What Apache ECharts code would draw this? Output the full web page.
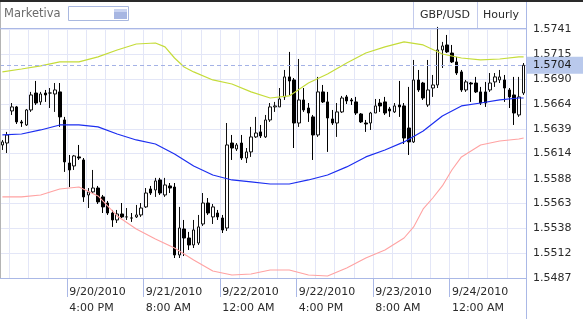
<!DOCTYPE html>
<html><head><meta charset="utf-8">
<script src="https://cdn.jsdelivr.net/npm/echarts@6/dist/echarts.min.js"></script>
<style>html,body{margin:0;padding:0;background:#fff}#c{width:583px;height:319px}</style>
</head><body><div id="c"></div>
<script>
// ---- data (GBP/USD hourly) ----
const startDay = 20, startHour = 2; // 9/20/2010 2:00 AM
const opens = [1.56227,1.56247,1.56574,1.56615,1.56462,1.56431,1.56584,1.56757,1.56666,1.56757,
1.56757,1.56747,1.56768,1.56482,1.56043,1.56013,1.56105,1.56074,1.55717,1.55748,
1.55788,1.55697,1.55635,1.55533,1.55462,1.55523,1.55493,1.55482,1.55493,1.55513,
1.55595,1.55778,1.55768,1.5587,1.55717,1.55809,1.55798,1.55105,1.5537,1.55278,
1.55207,1.55227,1.55421,1.55635,1.55493,1.55533,1.55482,1.5538,1.56247,1.56186,
1.56247,1.56094,1.56156,1.56309,1.5636,1.56309,1.56482,1.56615,1.56615,1.56717,
1.56921,1.5689,1.56451,1.56686,1.56604,1.56513,1.56329,1.56768,1.56666,1.56492,
1.56451,1.56564,1.56717,1.56686,1.56666,1.56543,1.56451,1.56451,1.56553,1.56655,
1.56666,1.56594,1.56564,1.56635,1.56625,1.564,1.56258,1.5689,1.56859,1.56635,
1.56808,1.56839,1.57196,1.57247,1.57165,1.57074,1.56972,1.56788,1.56859,1.56859,
1.56768,1.56768,1.56788,1.5687,1.5689,1.5689,1.56788,1.56737,1.56533,1.56757];
const closes = [1.56258,1.56329,1.56615,1.56462,1.56451,1.56584,1.56737,1.56655,1.56747,1.56737,
1.56757,1.56788,1.56513,1.56054,1.55972,1.56115,1.56094,1.55697,1.55748,1.55788,
1.55646,1.55595,1.55533,1.55462,1.55523,1.55493,1.55493,1.55482,1.55513,1.55584,
1.55737,1.55737,1.5586,1.55737,1.55819,1.55788,1.55105,1.5538,1.55278,1.55207,
1.5536,1.55391,1.55635,1.55533,1.55595,1.55493,1.5536,1.56227,1.56196,1.56227,
1.56094,1.56156,1.56309,1.56349,1.56319,1.56482,1.56615,1.56625,1.56696,1.56921,
1.5688,1.56451,1.56686,1.56584,1.56553,1.56329,1.56768,1.56666,1.56502,1.56451,
1.56564,1.56706,1.56676,1.56676,1.56553,1.56462,1.56441,1.56553,1.56625,1.56625,
1.56553,1.56574,1.56625,1.56615,1.56298,1.56258,1.5689,1.56788,1.56706,1.56788,
1.56839,1.57196,1.57237,1.57176,1.57074,1.56961,1.56788,1.5687,1.56849,1.56768,
1.56655,1.56655,1.56859,1.56921,1.56921,1.56808,1.56717,1.56553,1.56717,1.5704];
const lows = [1.56176,1.56145,1.56533,1.56441,1.56411,1.56421,1.56564,1.56635,1.56635,1.56666,
1.56604,1.56564,1.56411,1.55952,1.55798,1.55972,1.56074,1.55646,1.55584,1.55737,
1.55625,1.55533,1.55513,1.55391,1.55431,1.55482,1.55462,1.55442,1.55482,1.55493,
1.55584,1.55717,1.55697,1.55717,1.55697,1.55737,1.55074,1.55074,1.55094,1.55156,
1.55176,1.55207,1.55401,1.55513,1.55421,1.55462,1.55329,1.5535,1.56074,1.56166,
1.56074,1.56043,1.56105,1.56298,1.56298,1.56298,1.56462,1.56564,1.56615,1.56686,
1.56737,1.56196,1.56411,1.56564,1.56462,1.56074,1.56309,1.56655,1.56156,1.56431,
1.56309,1.56553,1.56645,1.56635,1.56533,1.56451,1.5636,1.5638,1.56553,1.56564,
1.56533,1.56513,1.56553,1.56513,1.56237,1.56125,1.56247,1.56768,1.56686,1.56615,
1.56717,1.56808,1.57012,1.57165,1.57063,1.56941,1.56768,1.56768,1.56666,1.56757,
1.56635,1.56615,1.56768,1.56819,1.56859,1.56666,1.56604,1.56431,1.56513,1.56737];
const highs = [1.56278,1.5636,1.56655,1.56625,1.56482,1.56594,1.56768,1.5688,1.56768,1.56788,
1.56808,1.56859,1.56859,1.56513,1.56125,1.56125,1.56227,1.56094,1.55788,1.55972,
1.55809,1.55717,1.55656,1.55564,1.55564,1.55635,1.55584,1.55533,1.55615,1.55635,
1.55788,1.55809,1.55891,1.55891,1.55891,1.55839,1.55839,1.55595,1.55462,1.5534,
1.55462,1.55513,1.55737,1.55686,1.55625,1.55564,1.55513,1.56451,1.56329,1.56247,
1.56329,1.56196,1.56411,1.56513,1.56431,1.56533,1.56655,1.56666,1.56808,1.56992,
1.57176,1.5691,1.57104,1.56808,1.56655,1.56533,1.56921,1.56839,1.56768,1.56584,
1.56655,1.56727,1.56737,1.56706,1.56717,1.56553,1.56482,1.56564,1.56696,1.56696,
1.56717,1.56615,1.56655,1.5688,1.56655,1.56819,1.57094,1.56992,1.5687,1.57094,
1.56941,1.57431,1.57278,1.57349,1.57247,1.57125,1.56992,1.5689,1.5687,1.56921,
1.56819,1.5687,1.56961,1.56961,1.56992,1.56941,1.56808,1.56921,1.56921,1.57063];

// Bollinger bands, read at selected bars (bar index)
const upperIdx  = [0,4,8,12,16,20,24,28,32,34,36,38,40,44,48,52,56,60,64,68,72,76,80,84,88,92,96,100,104,108,109];
const upperBand = [1.56972,1.57002,1.57033,1.57074,1.57074,1.57125,1.57196,1.57257,1.57267,1.57227,1.57114,1.57022,1.56972,1.5689,1.56849,1.56768,1.56706,1.56727,1.56859,1.56951,1.57063,1.57165,1.57227,1.57278,1.57247,1.57155,1.57114,1.57094,1.57104,1.57125,1.57125];
const midIdx  = [0,4,8,12,16,20,24,28,32,36,40,44,48,52,56,60,64,68,72,76,80,84,88,92,96,100,104,108,109];
const midBand = [1.56329,1.56339,1.5638,1.56431,1.56431,1.56411,1.56339,1.56278,1.56237,1.56135,1.56013,1.55921,1.5587,1.5585,1.55829,1.55829,1.5587,1.55921,1.56003,1.56105,1.56176,1.56258,1.5637,1.56523,1.56625,1.56655,1.56686,1.56706,1.56706];
const lowerIdx  = [0,4,8,12,16,20,24,28,32,36,40,44,48,52,56,60,64,68,72,76,80,84,86,88,90,92,94,96,100,104,108,109];
const lowerBand = [1.55697,1.55697,1.55717,1.55778,1.55798,1.55707,1.55503,1.5537,1.55268,1.55176,1.55054,1.54942,1.54901,1.54911,1.54952,1.54952,1.54901,1.54891,1.54972,1.55074,1.55156,1.55278,1.55391,1.55574,1.55686,1.55809,1.55972,1.56105,1.56227,1.56268,1.56288,1.56298];

const yTicks = [1.5487,1.5512,1.5538,1.5563,1.5588,1.5614,1.5639,1.5664,1.5690,1.5715,1.5741];
const yMin = 1.5487, yMax = 1.5742;

// ---- build ----
const categories = closes.map((_, i) => {
  const t = startHour + i;
  const d = startDay + Math.floor(t / 24);
  const h = t % 24;
  const h12 = h % 12 === 0 ? 12 : h % 12;
  return '9/' + d + '/2010 ' + h12 + ':00 ' + (h < 12 ? 'AM' : 'PM');
});
const candleData = closes.map((c, i) => [opens[i], c, lows[i], highs[i]]);
const pairs = (idx, vals) => idx.map((k, j) => [k, vals[j]]);
const lastClose = closes[closes.length - 1];

const FONT = 'DejaVu Sans';
const gridCol = '#e3e6f7';
const axisCol = '#aab8e6';
const labelEvery = (i) => i % 16 === 14;

const chart = echarts.init(document.getElementById('c'), null, {renderer: 'canvas'});
chart.setOption({
  animation: false,
  backgroundColor: '#ffffff',
  grid: {left: 0, right: 57, top: 28, bottom: 41, containLabel: false},
  xAxis: {
    type: 'category', data: categories, boundaryGap: true,
    axisLine: {show: true, lineStyle: {color: axisCol, width: 1}},
    axisTick: {show: true, interval: labelEvery, length: 19, lineStyle: {color: axisCol, width: 1}},
    axisLabel: {
      interval: labelEvery, align: 'left', margin: 6, lineHeight: 16,
      fontFamily: FONT, fontSize: 11, color: '#2a2a2a',
      formatter: (v) => v.replace(' ', '\n')
    },
    splitLine: {show: true, interval: (i) => i % 4 === 2, lineStyle: {color: gridCol, width: 1}}
  },
  yAxis: {
    type: 'value', position: 'right', min: yMin, max: yMax, scale: true,
    axisLine: {show: false},
    axisTick: {show: false, customValues: yTicks},
    axisLabel: {customValues: yTicks, margin: 7, fontFamily: FONT, fontSize: 11, color: '#2a2a2a',
      formatter: (v) => v.toFixed(4)},
    splitLine: {show: true, lineStyle: {color: gridCol, width: 1}}
  },
  series: [
    {
      type: 'candlestick', data: candleData, barWidth: 3, z: 2,
      itemStyle: {color: '#ffffff', color0: '#000000', borderColor: '#111111', borderColor0: '#000000', borderWidth: 1},
      markLine: {
        silent: true, symbol: ['none', 'none'], precision: 5,
        lineStyle: {type: [4, 3], color: '#a4b2e6', width: 1},
        label: {position: 'end', distance: 1, formatter: (p) => Number(p.value).toFixed(4),
          backgroundColor: '#b9c9ec', color: '#1a1a1a', fontFamily: FONT, fontSize: 11,
          padding: [2, 12, 2, 6], lineHeight: 13},
        data: [{yAxis: lastClose}]
      }
    },
    {type: 'line', data: pairs(upperIdx, upperBand), showSymbol: false, z: 3,
      lineStyle: {color: '#c5dc3a', width: 1.2}},
    {type: 'line', data: pairs(midIdx, midBand), showSymbol: false, z: 3,
      lineStyle: {color: '#1c2ef0', width: 1.2}},
    {type: 'line', data: pairs(lowerIdx, lowerBand), showSymbol: false, z: 3,
      lineStyle: {color: '#ffa2a2', width: 1.1}}
  ],
  graphic: [
    {type: 'rect', shape: {x: 0, y: 0, width: 583, height: 2}, style: {fill: '#2a2a2a'}, z: 10},
    {type: 'line', shape: {x1: 0.5, y1: 2, x2: 0.5, y2: 278}, style: {stroke: '#b4b4b4', lineWidth: 1}, z: 10},
    {type: 'line', shape: {x1: 0, y1: 28.5, x2: 526, y2: 28.5}, style: {stroke: axisCol, lineWidth: 1}, z: 10},
    {type: 'line', shape: {x1: 526.5, y1: 2, x2: 526.5, y2: 319}, style: {stroke: axisCol, lineWidth: 1}, z: 10},
    {type: 'text', left: 4, top: 8, style: {text: 'Marketiva', fill: '#6a6a6a', font: '11.5px "DejaVu Sans"'}, z: 10},
    {type: 'rect', shape: {x: 68.5, y: 6.5, width: 60, height: 14}, style: {fill: '#ffffff', stroke: '#a9b8e0', lineWidth: 1}, z: 10},
    {type: 'rect', shape: {x: 114, y: 9, width: 13, height: 10}, style: {fill: '#a7b6e2'}, z: 11},
    {type: 'rect', shape: {x: 114, y: 9, width: 13, height: 3}, style: {fill: '#c9d3f1'}, z: 12},
    {type: 'line', shape: {x1: 413.5, y1: 2, x2: 413.5, y2: 28}, style: {stroke: '#c3cbec', lineWidth: 1}, z: 10},
    {type: 'line', shape: {x1: 477.5, y1: 2, x2: 477.5, y2: 28}, style: {stroke: '#c3cbec', lineWidth: 1}, z: 10},
    {type: 'text', x: 445, y: 15, style: {text: 'GBP/USD', fill: '#2a2a2a', font: '11px "DejaVu Sans"', textAlign: 'center', textVerticalAlign: 'middle'}, z: 10},
    {type: 'text', x: 501, y: 15, style: {text: 'Hourly', fill: '#2a2a2a', font: '11px "DejaVu Sans"', textAlign: 'center', textVerticalAlign: 'middle'}, z: 10}
  ]
});
</script>
</body></html>
